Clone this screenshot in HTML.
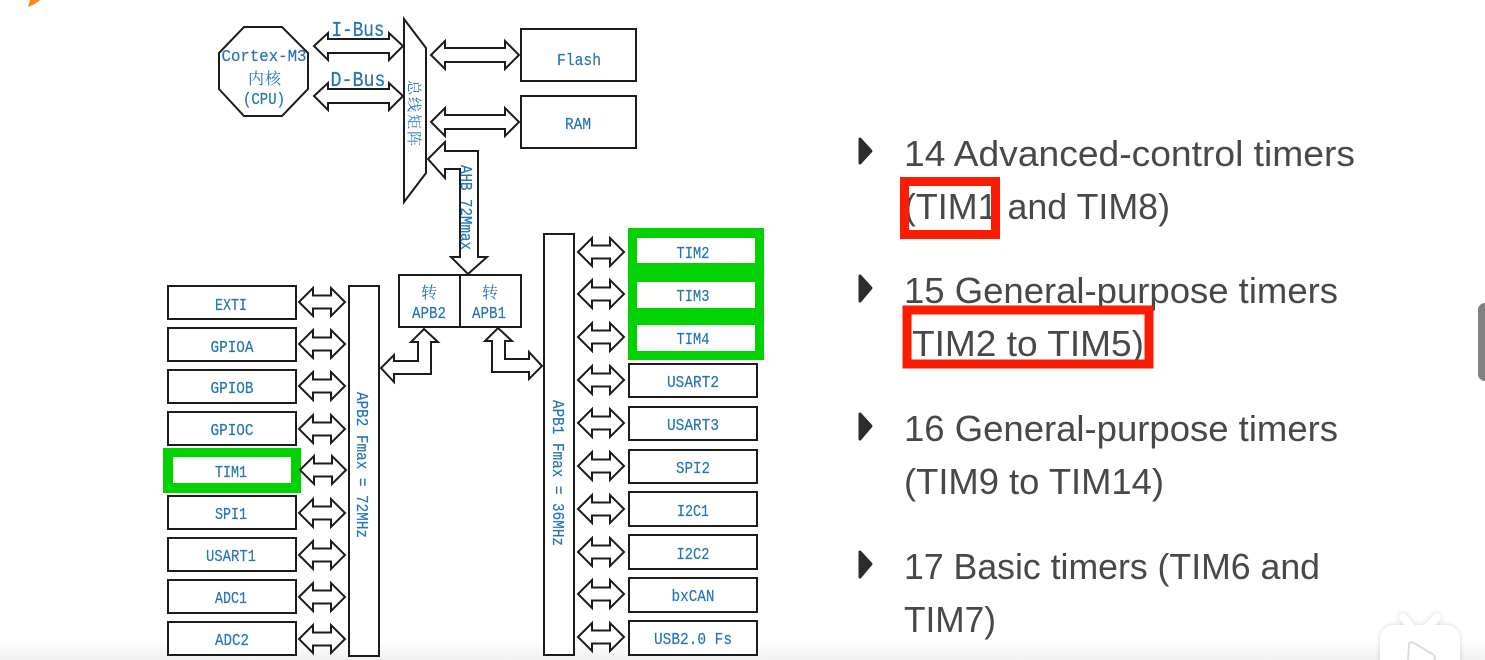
<!DOCTYPE html>
<html><head><meta charset="utf-8"><title>STM32 timers</title>
<style>
html,body{margin:0;padding:0;background:#fff;width:1485px;height:660px;overflow:hidden}
svg{display:block}
.b{font-family:"Liberation Mono","Noto Sans CJK SC",monospace;font-size:17px;fill:#2474b6;text-anchor:middle;stroke:#2474b6;stroke-width:.2}
.v{text-anchor:start}
.c{font-family:"Noto Serif CJK SC","Noto Sans CJK SC",serif;font-size:16px;fill:#2474b6;text-anchor:middle}
.t{font-family:"Liberation Sans",sans-serif;font-size:36px;fill:#484848}
.s{fill:#fff;stroke:#1c1c1c;stroke-width:2}
.soft{filter:blur(.35px)}
</style></head><body>
<svg width="1485" height="660" viewBox="0 0 1485 660" xmlns="http://www.w3.org/2000/svg">
<defs>
<linearGradient id="bot" x1="0" y1="0" x2="0" y2="1"><stop offset="0" stop-color="#fff"/><stop offset="1" stop-color="#f1f1f1"/></linearGradient>
<filter id="sh" x="-30%" y="-30%" width="160%" height="160%"><feGaussianBlur stdDeviation="3"/></filter>
<polygon id="a" points="0,0 14,-14 14,-6.5 32,-6.5 32,-14 46,0 32,14 32,6.5 14,6.5 14,14" fill="#fff" stroke="#1c1c1c" stroke-width="2"/>
</defs>
<rect width="1485" height="660" fill="#fff"/>
<rect y="640" width="1485" height="20" fill="url(#bot)"/>
<path d="M28 7 C33 5 37 3 40 0 L30 0 Z" fill="#f58a1f"/>

<g class="soft">
<!-- CPU -->
<polygon class="s" points="244,27 282,27 308,53 308,89 282,116 244,116 219,89 219,53"/>
<text class="b" x="264" y="61" textLength="85" lengthAdjust="spacingAndGlyphs">Cortex-M3</text>
<text class="c" x="265" y="84" style="letter-spacing:1px">内核</text>
<text class="b" x="264" y="104" textLength="42" lengthAdjust="spacingAndGlyphs">(CPU)</text>

<!-- Bus arrows -->
<polygon class="s" points="314,46 328,33 328,39 389,39 389,33 403,46 389,60 389,53 328,53 328,60"/>
<polygon class="s" points="314,96 328,83 328,89 389,89 389,83 403,96 389,110 389,103 328,103 328,110"/>
<text class="b" x="358" y="36" style="font-size:21px" textLength="53" lengthAdjust="spacingAndGlyphs">I-Bus</text>
<text class="b" x="358" y="86" style="font-size:21px" textLength="55" lengthAdjust="spacingAndGlyphs">D-Bus</text>

<!-- Matrix -->
<polygon class="s" points="404,19 426,48 426,173 404,202"/>
<text class="c" transform="translate(409,114) rotate(90)" style="font-size:15px;letter-spacing:2px">总线矩阵</text>

<polygon class="s" points="431,55 445,41 445,48 505,48 505,41 519,55 505,69 505,62 445,62 445,69"/>
<polygon class="s" points="431,122 445,108 445,115 505,115 505,108 519,122 505,136 505,129 445,129 445,136"/>
<rect class="s" x="521" y="29" width="115" height="52"/>
<rect class="s" x="521" y="96" width="115" height="52"/>
<text class="b" x="579" y="65" textLength="44" lengthAdjust="spacingAndGlyphs">Flash</text>
<text class="b" x="578" y="129" textLength="26" lengthAdjust="spacingAndGlyphs">RAM</text>

<!-- AHB -->
<polygon class="s" points="428,159 445,142 445,151 478,151 478,257 487,257 468,274 451,257 460,257 460,169 445,169 445,178"/>
<text class="b v" transform="translate(461,165) rotate(90)" textLength="85" lengthAdjust="spacingAndGlyphs">AHB 72Mmax</text>

<!-- Bridges -->
<rect class="s" x="399" y="275" width="122" height="52"/>
<line x1="460" y1="275" x2="460" y2="327" stroke="#1c1c1c" stroke-width="2"/>
<text class="c" x="429" y="298">转</text>
<text class="c" x="490" y="298">转</text>
<text class="b" x="429" y="318" textLength="34" lengthAdjust="spacingAndGlyphs">APB2</text>
<text class="b" x="489" y="318" textLength="34" lengthAdjust="spacingAndGlyphs">APB1</text>
<polygon class="s" points="424,329 438,342 431,342 431,374 394,374 394,382 381,368 394,355 394,361 418,361 418,342 411,342"/>
<polygon class="s" points="498,328 512,341 505,341 505,359 529,359 529,352 542,366 529,379 529,372 492,372 492,341 485,341"/>

<!-- APB2 rail -->
<rect class="s" x="349" y="286" width="30" height="370"/>
<text class="b v" transform="translate(357,392) rotate(90)" textLength="146" lengthAdjust="spacingAndGlyphs">APB2 Fmax = 72MHz</text>

<!-- APB2 peripherals -->
<rect class="s" x="168" y="286" width="128" height="33"/>
<rect class="s" x="168" y="328" width="128" height="33"/>
<rect class="s" x="168" y="370" width="128" height="33"/>
<rect class="s" x="168" y="412" width="128" height="33"/>
<rect x="163" y="448" width="138" height="45" fill="#02d102"/>
<rect x="173" y="457" width="118" height="26" fill="#fff"/>
<rect class="s" x="168" y="496" width="128" height="33"/>
<rect class="s" x="168" y="538" width="128" height="33"/>
<rect class="s" x="168" y="580" width="128" height="33"/>
<rect class="s" x="168" y="622" width="128" height="33"/>
<text class="b" x="231" y="310" textLength="32" lengthAdjust="spacingAndGlyphs">EXTI</text>
<text class="b" x="232" y="352" textLength="43" lengthAdjust="spacingAndGlyphs">GPIOA</text>
<text class="b" x="232" y="393" textLength="43" lengthAdjust="spacingAndGlyphs">GPIOB</text>
<text class="b" x="232" y="435" textLength="43" lengthAdjust="spacingAndGlyphs">GPIOC</text>
<text class="b" x="231" y="477" textLength="32" lengthAdjust="spacingAndGlyphs">TIM1</text>
<text class="b" x="231" y="519" textLength="32" lengthAdjust="spacingAndGlyphs">SPI1</text>
<text class="b" x="231" y="561" textLength="50" lengthAdjust="spacingAndGlyphs">USART1</text>
<text class="b" x="231" y="603" textLength="32" lengthAdjust="spacingAndGlyphs">ADC1</text>
<text class="b" x="232" y="645" textLength="34" lengthAdjust="spacingAndGlyphs">ADC2</text>
<use href="#a" x="299" y="302"/>
<use href="#a" x="299" y="344"/>
<use href="#a" x="299" y="386"/>
<use href="#a" x="299" y="429"/>
<use href="#a" x="300" y="470"/>
<use href="#a" x="299" y="513"/>
<use href="#a" x="299" y="555"/>
<use href="#a" x="299" y="597"/>
<use href="#a" x="299" y="639"/>

<!-- APB1 rail -->
<rect class="s" x="544" y="234" width="30" height="421"/>
<text class="b v" transform="translate(553,400) rotate(90)" textLength="146" lengthAdjust="spacingAndGlyphs">APB1 Fmax = 36MHz</text>

<!-- APB1 peripherals -->
<rect x="628" y="228" width="136" height="132" fill="#02d102"/>
<rect x="637" y="238" width="118" height="25" fill="#fff"/>
<rect x="637" y="282" width="118" height="26" fill="#fff"/>
<rect x="637" y="325" width="118" height="26" fill="#fff"/>
<rect class="s" x="629" y="364" width="128" height="33"/>
<rect class="s" x="629" y="407" width="128" height="33"/>
<rect class="s" x="629" y="450" width="128" height="33"/>
<rect class="s" x="629" y="492" width="128" height="34"/>
<rect class="s" x="629" y="535" width="128" height="34"/>
<rect class="s" x="629" y="578" width="128" height="34"/>
<rect class="s" x="629" y="621" width="128" height="34"/>
<text class="b" x="693" y="258" textLength="33" lengthAdjust="spacingAndGlyphs">TIM2</text>
<text class="b" x="693" y="301" textLength="33" lengthAdjust="spacingAndGlyphs">TIM3</text>
<text class="b" x="693" y="344" textLength="33" lengthAdjust="spacingAndGlyphs">TIM4</text>
<text class="b" x="693" y="387" textLength="52" lengthAdjust="spacingAndGlyphs">USART2</text>
<text class="b" x="693" y="430" textLength="52" lengthAdjust="spacingAndGlyphs">USART3</text>
<text class="b" x="693" y="473" textLength="34" lengthAdjust="spacingAndGlyphs">SPI2</text>
<text class="b" x="693" y="516" textLength="32" lengthAdjust="spacingAndGlyphs">I2C1</text>
<text class="b" x="693" y="559" textLength="33" lengthAdjust="spacingAndGlyphs">I2C2</text>
<text class="b" x="693" y="601" textLength="43" lengthAdjust="spacingAndGlyphs">bxCAN</text>
<text class="b" x="693" y="644" textLength="78" lengthAdjust="spacingAndGlyphs">USB2.0 Fs</text>
<use href="#a" x="578" y="252"/>
<use href="#a" x="578" y="294"/>
<use href="#a" x="578" y="337"/>
<use href="#a" x="578" y="380"/>
<use href="#a" x="578" y="423"/>
<use href="#a" x="578" y="466"/>
<use href="#a" x="578" y="509"/>
<use href="#a" x="578" y="552"/>
<use href="#a" x="578" y="594"/>
<use href="#a" x="578" y="637"/>

<!-- Right text -->
<g fill="#2c2c2c" stroke="#2c2c2c" stroke-width="3" stroke-linejoin="round">
<polygon points="860,139 871,151 860,163"/>
<polygon points="860,276 871,288 860,301"/>
<polygon points="860,414 871,426 860,439"/>
<polygon points="860,552 871,564 860,577"/>
</g>
<text class="t" x="904" y="166" textLength="451" lengthAdjust="spacingAndGlyphs">14 Advanced-control timers</text>
<text class="t" x="904" y="219" textLength="266" lengthAdjust="spacingAndGlyphs">(TIM1 and TIM8)</text>
<text class="t" x="904" y="303" textLength="434" lengthAdjust="spacingAndGlyphs">15 General-purpose timers</text>
<text class="t" x="912" y="356" textLength="232" lengthAdjust="spacingAndGlyphs">TIM2 to TIM5)</text>
<text class="t" x="904" y="441" textLength="434" lengthAdjust="spacingAndGlyphs">16 General-purpose timers</text>
<text class="t" x="904" y="494" textLength="260" lengthAdjust="spacingAndGlyphs">(TIM9 to TIM14)</text>
<text class="t" x="904" y="579" textLength="416" lengthAdjust="spacingAndGlyphs">17 Basic timers (TIM6 and</text>
<text class="t" x="904" y="632" textLength="92" lengthAdjust="spacingAndGlyphs">TIM7)</text>
<rect x="904.5" y="181.5" width="91" height="53" fill="none" stroke="#fb1d03" stroke-width="9"/>
<rect x="907" y="310" width="242" height="54" fill="none" stroke="#fb1d03" stroke-width="9"/>
</g>

<!-- Scrollbar -->
<rect x="1478" y="303" width="14" height="78" rx="7" fill="#818181"/>

<!-- TV icon -->
<g>
<g filter="url(#sh)" opacity=".16">
<rect x="1380" y="625" width="80" height="60" rx="14" fill="#000"/>
<line x1="1403" y1="617" x2="1412" y2="628" stroke="#000" stroke-width="8" stroke-linecap="round"/>
<line x1="1437" y1="617" x2="1427" y2="628" stroke="#000" stroke-width="8" stroke-linecap="round"/>
</g>
<line x1="1403" y1="617" x2="1412" y2="628" stroke="#fff" stroke-width="8" stroke-linecap="round"/>
<line x1="1437" y1="617" x2="1427" y2="628" stroke="#fff" stroke-width="8" stroke-linecap="round"/>
<rect x="1380" y="625" width="80" height="60" rx="14" fill="#fff"/>
<path d="M1409 644 Q1410 641 1414 643 L1434 655 Q1436 657 1434 661 L1408 661 Z" fill="#fff" stroke="#dcdcdc" stroke-width="2"/>
</g>
</svg>
</body></html>
